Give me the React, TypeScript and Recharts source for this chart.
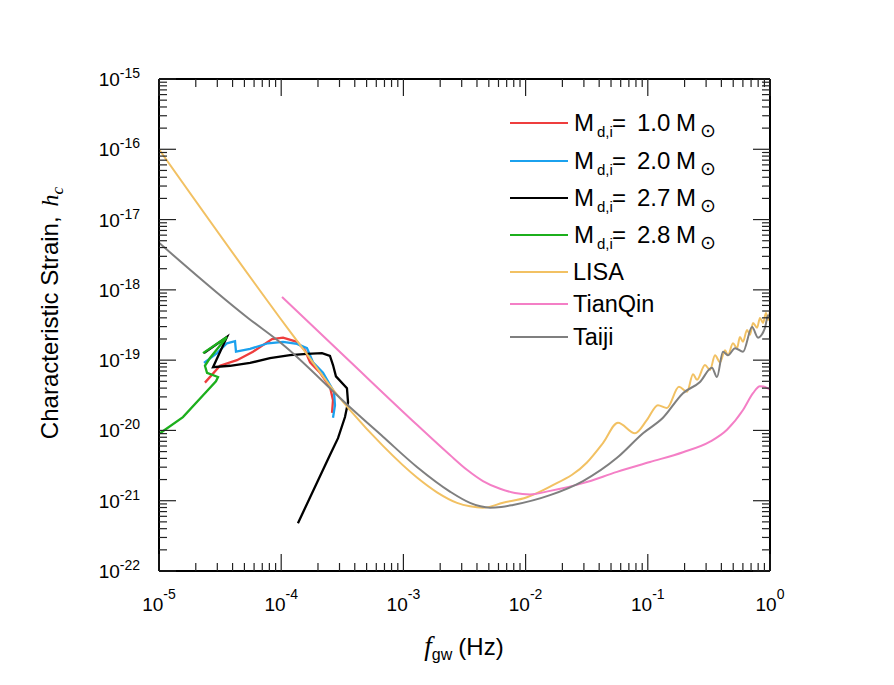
import React from "react";
import { LineChart, Line, XAxis, YAxis } from "recharts";

// Values, stored as [log10 f (Hz), log10 h_c]

const MD_10: [number, number][] = [
  [-4.624, -19.32], [-4.501, -19.08], [-4.362, -19.0], [-4.231, -18.88], [-4.075, -18.7],
  [-3.985, -18.68], [-3.871, -18.74], [-3.805, -18.86], [-3.764, -19.03], [-3.682, -19.18],
  [-3.601, -19.38], [-3.576, -19.57], [-3.584, -19.75],
];

const MD_20: [number, number][] = [
  [-4.632, -19.04], [-4.525, -18.9], [-4.444, -18.76], [-4.378, -18.73], [-4.37, -18.88],
  [-4.255, -18.84], [-4.108, -18.76], [-3.985, -18.74], [-3.871, -18.77], [-3.789, -18.83],
  [-3.74, -19.03], [-3.658, -19.18], [-3.568, -19.45], [-3.56, -19.64], [-3.576, -19.82],
];

const MD_27: [number, number][] = [
  [-4.632, -18.9], [-4.444, -18.67], [-4.558, -19.1], [-4.419, -19.08], [-4.255, -19.04],
  [-4.092, -18.97], [-3.928, -18.93], [-3.789, -18.91], [-3.666, -18.9], [-3.601, -18.94],
  [-3.576, -19.07], [-3.552, -19.23], [-3.462, -19.4], [-3.453, -19.6], [-3.478, -19.81],
  [-3.535, -20.11], [-3.601, -20.35], [-3.863, -21.32],
];

const MD_28: [number, number][] = [
  [-4.992, -20.04], [-4.804, -19.81], [-4.624, -19.47], [-4.534, -19.3], [-4.517, -19.24],
  [-4.607, -19.18], [-4.624, -19.08], [-4.583, -18.97], [-4.444, -18.67], [-4.64, -18.9],
];

const LISA: [number, number][] = [
  [-5.0, -16.0], [-4.01, -18.4], [-3.805, -18.88], [-3.576, -19.42], [-3.437, -19.71],
  [-3.167, -20.22], [-2.889, -20.67], [-2.725, -20.88], [-2.561, -21.03], [-2.455, -21.08],
  [-2.349, -21.1], [-2.185, -21.03], [-1.989, -20.95], [-1.8, -20.8], [-1.5, -20.46],
  [-1.367, -20.18], [-1.244, -19.89], [-1.105, -20.04], [-1.007, -19.85], [-0.917, -19.64],
  [-0.843, -19.68], [-0.745, -19.38], [-0.679, -19.45], [-0.63, -19.2], [-0.597, -19.28],
  [-0.532, -19.07], [-0.491, -19.14], [-0.45, -18.93], [-0.409, -19.03], [-0.368, -18.86],
  [-0.344, -18.93], [-0.303, -18.76], [-0.27, -18.83], [-0.246, -18.67], [-0.221, -18.74],
  [-0.188, -18.57], [-0.164, -18.64], [-0.139, -18.47], [-0.106, -18.54], [-0.082, -18.4],
  [-0.057, -18.47], [-0.033, -18.33], [-0.016, -18.43], [0, -18.3],
];

const TIANQIN: [number, number][] = [
  [-3.993, -18.1], [-3.437, -19.02], [-2.889, -19.92], [-2.619, -20.35], [-2.48, -20.56],
  [-2.349, -20.72], [-2.209, -20.83], [-2.087, -20.89], [-1.964, -20.91], [-1.8, -20.86],
  [-1.53, -20.75], [-1.252, -20.59], [-0.982, -20.45], [-0.712, -20.31], [-0.491, -20.16],
  [-0.352, -19.99], [-0.221, -19.71], [-0.139, -19.47], [-0.082, -19.37], [-0.041, -19.38],
  [0, -19.42],
];

const TAIJI: [number, number][] = [
  [-5.0, -17.33], [-4.272, -18.4], [-3.985, -18.78], [-3.437, -19.67], [-3.167, -20.09],
  [-2.889, -20.52], [-2.619, -20.87], [-2.455, -21.03], [-2.37, -21.08], [-2.291, -21.1],
  [-2.2, -21.09], [-2.103, -21.06], [-1.8, -20.92], [-1.53, -20.72], [-1.252, -20.39],
  [-1.039, -20.04], [-0.876, -19.82], [-0.712, -19.47], [-0.573, -19.31], [-0.475, -19.11],
  [-0.434, -19.24], [-0.385, -18.88], [-0.344, -18.93], [-0.286, -18.83], [-0.221, -18.88],
  [-0.147, -18.53], [-0.098, -18.68], [-0.041, -18.54], [-0.016, -18.36], [0, -18.4],
];

const X_DECADES = [-5, -4, -3, -2, -1, 0];
const Y_DECADES = [-22, -21, -20, -19, -18, -17, -16, -15];
const MINOR_MULTIPLES = [2, 3, 4, 5, 6, 7, 8, 9];

const MASS_LABELS = ["1.0", "2.0", "2.7", "2.8"];
const DETECTOR_LABELS = ["LISA", "TianQin", "Taiji"];

const COLORS = {
  md10: "#EE3D3D",
  md20: "#1BA1EE",
  md27: "#000000",
  md28: "#1CAF1C",
  lisa: "#F2C163",
  tianqin: "#F47FC6",
  taiji: "#7F7F7F",
};

// ── helpers ─────────────────────────────────────────────────────────────────

const toPoints = (arr: [number, number][]) => arr.map(([x, y]) => ({ x, y }));

const withMinors = (decades: number[]) => {
  const out: number[] = [];
  decades.forEach((d, i) => {
    out.push(d);
    if (i < decades.length - 1) MINOR_MULTIPLES.forEach((m) => out.push(d + Math.log10(m)));
  });
  return out;
};

const X_TICKS = withMinors(X_DECADES);
const Y_TICKS = withMinors(Y_DECADES);

const SANS = "'Liberation Sans', Arial, Helvetica, sans-serif";
const SERIF = "'Liberation Serif', 'Times New Roman', serif";
const MAJOR_LEN = 17;
const MINOR_LEN = 8;
const TICK_STROKE = "#222";

const isMajor = (v: number) => Math.abs(v - Math.round(v)) < 1e-9;
const expText = (v: number) => String(Math.round(v) === 0 ? 0 : Math.round(v));

// ── tick renderers (inward ticks on all four sides) ──────────────────────────

function BottomTick(props: any) {
  const { x, y, payload } = props;
  const v = payload.value;
  const major = isMajor(v);
  return (
    <g>
      <line x1={x} x2={x} y1={y} y2={y - (major ? MAJOR_LEN : MINOR_LEN)} stroke={TICK_STROKE} strokeWidth={1.2} />
      {major && (
        <text x={x} y={y + 40} textAnchor="middle" fontFamily={SANS} fontSize={19} fill="#000">
          10<tspan dy={-12} fontSize={14}>{expText(v)}</tspan>
        </text>
      )}
    </g>
  );
}

function TopTick(props: any) {
  const { x, y, payload } = props;
  const major = isMajor(payload.value);
  return <line x1={x} x2={x} y1={y} y2={y + (major ? MAJOR_LEN : MINOR_LEN)} stroke={TICK_STROKE} strokeWidth={1.2} />;
}

function LeftTick(props: any) {
  const { x, y, payload } = props;
  const v = payload.value;
  const major = isMajor(v);
  return (
    <g>
      <line x1={x} x2={x + (major ? MAJOR_LEN : MINOR_LEN)} y1={y} y2={y} stroke={TICK_STROKE} strokeWidth={1.2} />
      {major && (
        <text x={x - 19} y={y + 7} textAnchor="end" fontFamily={SANS} fontSize={19} fill="#000">
          10<tspan dy={-8} fontSize={14}>{expText(v)}</tspan>
        </text>
      )}
    </g>
  );
}

function RightTick(props: any) {
  const { x, y, payload } = props;
  const major = isMajor(payload.value);
  return <line x1={x} x2={x - (major ? MAJOR_LEN : MINOR_LEN)} y1={y} y2={y} stroke={TICK_STROKE} strokeWidth={1.2} />;
}

// ── legend + axis titles overlay ─────────────────────────────────────────────

const LEGEND_ROWS_Y = [115, 153, 190, 227, 264, 296, 329];

function Overlay() {
  const massColors = [COLORS.md10, COLORS.md20, COLORS.md27, COLORS.md28];
  const detColors = [COLORS.lisa, COLORS.tianqin, COLORS.taiji];
  return (
    <svg width={878} height={669} style={{ position: "absolute", left: 0, top: 0, pointerEvents: "none" }}>
      {/* y title */}
      <text transform="translate(50,305) rotate(-90)" textAnchor="middle" fontFamily={SANS} fontSize={24} fill="#000">
        Characteristic Strain,
        <tspan dx={10} fontFamily={SERIF} fontStyle="italic">h</tspan>
        <tspan fontFamily={SERIF} fontStyle="italic" fontSize={17} dy={5}>c</tspan>
      </text>
      {/* x title */}
      <text x={456} y={647} textAnchor="middle" fontFamily={SANS} fontSize={24} fill="#000">
        <tspan fontFamily={SERIF} fontStyle="italic" fontSize={27}>f</tspan>
        <tspan fontSize={16} dy={5}>gw</tspan>
        <tspan dy={-5} dx={6}>(Hz)</tspan>
      </text>
      {/* legend */}
      {MASS_LABELS.map((m, i) => {
        const cy = LEGEND_ROWS_Y[i];
        return (
          <g key={m}>
            <line x1={502} x2={560} y1={cy} y2={cy} stroke={massColors[i]} strokeWidth={2.2} />
            <text y={cy + 8} fontFamily={SANS} fontSize={24} fill="#000">
              <tspan x={566}>M</tspan>
              <tspan x={589} fontSize={15} dy={6}>d,i</tspan>
              <tspan x={604} dy={-6}>=</tspan>
              <tspan x={629}>{m}</tspan>
              <tspan x={668}>M</tspan>
              <tspan x={692} fontFamily="'DejaVu Sans', sans-serif" fontSize={19} dy={6}>⊙</tspan>
            </text>
          </g>
        );
      })}
      {DETECTOR_LABELS.map((d, j) => {
        const cy = LEGEND_ROWS_Y[MASS_LABELS.length + j];
        return (
          <g key={d}>
            <line x1={502} x2={560} y1={cy} y2={cy} stroke={detColors[j]} strokeWidth={2} />
            <text x={565} y={cy + 8} fontFamily={SANS} fontSize={23.5} fill="#000">{d}</text>
          </g>
        );
      })}
    </svg>
  );
}

// ── main ─────────────────────────────────────────────────────────────────────

const SERIES = [
  { key: "md10", data: MD_10, color: COLORS.md10, width: 2.3, curve: "linear" },
  { key: "md20", data: MD_20, color: COLORS.md20, width: 2.3, curve: "linear" },
  { key: "md27", data: MD_27, color: COLORS.md27, width: 2.3, curve: "linear" },
  { key: "md28", data: MD_28, color: COLORS.md28, width: 2.3, curve: "linear" },
  { key: "lisa", data: LISA, color: COLORS.lisa, width: 2, curve: "monotone" },
  { key: "tianqin", data: TIANQIN, color: COLORS.tianqin, width: 2, curve: "monotone" },
  { key: "taiji", data: TAIJI, color: COLORS.taiji, width: 2, curve: "monotone" },
];

export default function App() {
  return (
    <div style={{ position: "relative", width: 878, height: 669, background: "#fff" }}>
      <LineChart width={878} height={669} margin={{ top: 61, right: 106, bottom: 66, left: 91 }}>
        <XAxis
          xAxisId="b"
          type="number"
          dataKey="x"
          domain={[-5, 0]}
          ticks={X_TICKS}
          interval={0}
          allowDataOverflow
          height={40}
          tickSize={0}
          tickMargin={0}
          tickLine={false}
          tick={<BottomTick />}
          axisLine={{ stroke: "#000", strokeWidth: 2 }}
        />
        <XAxis
          xAxisId="t"
          orientation="top"
          type="number"
          dataKey="x"
          domain={[-5, 0]}
          ticks={X_TICKS}
          interval={0}
          allowDataOverflow
          height={10}
          tickSize={0}
          tickMargin={0}
          tickLine={false}
          tick={<TopTick />}
          axisLine={{ stroke: "#000", strokeWidth: 2 }}
        />
        <YAxis
          yAxisId="l"
          type="number"
          dataKey="y"
          domain={[-22, -15]}
          ticks={Y_TICKS}
          interval={0}
          allowDataOverflow
          width={60}
          tickSize={0}
          tickMargin={0}
          tickLine={false}
          tick={<LeftTick />}
          axisLine={{ stroke: "#000", strokeWidth: 2 }}
        />
        <YAxis
          yAxisId="r"
          orientation="right"
          type="number"
          dataKey="y"
          domain={[-22, -15]}
          ticks={Y_TICKS}
          interval={0}
          allowDataOverflow
          width={10}
          tickSize={0}
          tickMargin={0}
          tickLine={false}
          tick={<RightTick />}
          axisLine={{ stroke: "#000", strokeWidth: 2 }}
        />
        {SERIES.map((s) => (
          <Line
            key={s.key}
            xAxisId="b"
            yAxisId="l"
            data={toPoints(s.data)}
            dataKey="y"
            type={s.curve as any}
            stroke={s.color}
            strokeWidth={s.width}
            dot={false}
            activeDot={false}
            isAnimationActive={false}
          />
        ))}
      </LineChart>
      <Overlay />
    </div>
  );
}
